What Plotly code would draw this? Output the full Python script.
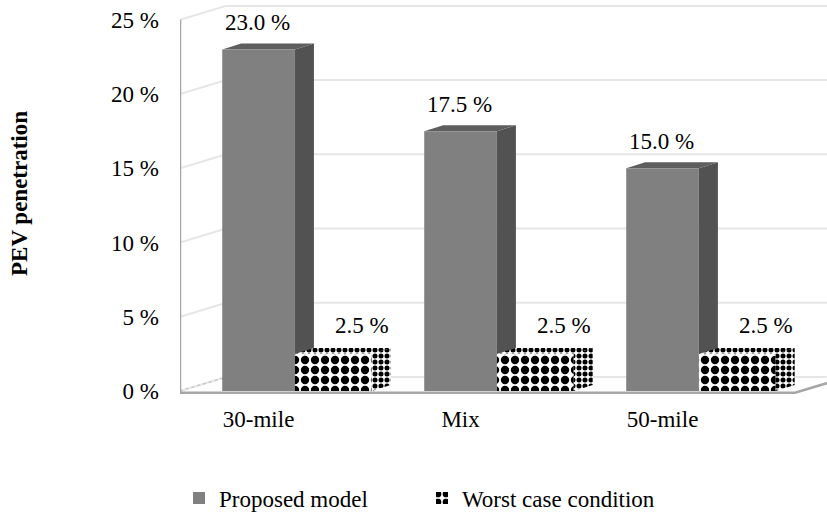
import plotly.graph_objects as go

categories = ["30-mile", "Mix", "50-mile"]
proposed = [23.0, 17.5, 15.0]
worst = [2.5, 2.5, 2.5]
proposed_labels = ["23.0 %", "17.5 %", "15.0 %"]
worst_labels = ["2.5 %", "2.5 %", "2.5 %"]
y_ticks = [0, 5, 10, 15, 20, 25]
y_tick_text = ["0 %", "5 %", "10 %", "15 %", "20 %", "25 %"]

FONT = "Liberation Serif, Times New Roman, serif"
FS = 23
pos = list(range(len(categories)))

# geometry (data units)
W_P, W_W, OFF_W = 0.36, 0.38, 0.37
DX, DY = 0.094, 0.40      # bar depth
GX, GY = 0.228, 0.94      # wall depth
X0, X1 = -0.389, 2.814
Y0, Y1 = -0.27, 26.0
FR = 2.656                # floor front-right corner

FRONT = "#808080"
SIDE = "#525252"
TOP = "#5e5e5e"
pat_front = dict(shape=".", fgcolor="#000000", bgcolor="#ffffff", fgopacity=1,
                 size=10, solidity=0.55)
pat_side = dict(shape=".", fgcolor="#000000", bgcolor="#ffffff", fgopacity=1,
                size=6, solidity=0.55)

fig = go.Figure()
fig.add_trace(go.Bar(x=pos, y=proposed, width=W_P, name="Proposed model",
                     legendwidth=198,
                     marker=dict(color=FRONT, line=dict(width=0))))
fig.add_trace(go.Bar(x=[p + OFF_W for p in pos], y=worst, width=W_W,
                     name="Worst case condition", legendwidth=215,
                     marker=dict(color="white", pattern=pat_front, line=dict(width=0))))

shapes = []
# back wall gridlines with slanted left-wall segments
for t in y_ticks:
    shapes.append(dict(type="path", xref="x", yref="y", layer="below",
                       path=f"M{X0},{t} L{X0+GX},{t+GY} L{X1},{t+GY}",
                       line=dict(color="#e6e6e6", width=2)))
# left wall floor edge (dotted)
shapes.append(dict(type="line", xref="x", yref="y", layer="below",
                   x0=X0, y0=0, x1=X0 + GX, y1=GY,
                   line=dict(color="#c8c8c8", width=1.5, dash="dot")))
# floor front edge
shapes.append(dict(type="path", xref="x", yref="y", layer="above",
                   path=f"M{X0},-0.12 L{FR},-0.12 L{FR+GX},{GY-0.12}",
                   line=dict(color="#a6a6a6", width=2.5)))
# front y axis line
shapes.append(dict(type="line", xref="x", yref="y", layer="above",
                   x0=X0, y0=-0.12, x1=X0, y1=25,
                   line=dict(color="#a6a6a6", width=2.5)))

# proposed bars: side and top faces
for p, v in zip(pos, proposed):
    l, r = p - W_P / 2, p + W_P / 2
    shapes.append(dict(type="path", xref="x", yref="y", layer="below",
                       path=f"M{r},0 L{r},{v} L{r+DX},{v+DY} L{r+DX},{DY} Z",
                       fillcolor=SIDE, line=dict(width=0)))
    shapes.append(dict(type="path", xref="x", yref="y", layer="below",
                       path=f"M{l},{v} L{r},{v} L{r+DX},{v+DY} L{l+DX},{v+DY} Z",
                       fillcolor=TOP, line=dict(width=0)))

# worst case bars: side and top faces (patterned)
for p, w in zip(pos, worst):
    c = p + OFF_W
    l, r = c - W_W / 2, c + W_W / 2
    fig.add_trace(go.Scatter(x=[r, r, r + DX, r + DX, r], y=[0, w, w + DY, DY, 0],
                             mode="lines", line=dict(width=0), fill="toself",
                             fillcolor="white", fillpattern=pat_side,
                             showlegend=False, hoverinfo="skip"))
    fig.add_trace(go.Scatter(x=[l, r, r + DX, l + DX, l], y=[w, w, w + DY, w + DY, w],
                             mode="lines", line=dict(width=0), fill="toself",
                             fillcolor="white", fillpattern=pat_side,
                             showlegend=False, hoverinfo="skip"))

annotations = []
for p, v, s in zip(pos, proposed, proposed_labels):
    annotations.append(dict(x=p, y=v, xref="x", yref="y", text=s, showarrow=False,
                            xshift=-1, yshift=27, yanchor="middle",
                            font=dict(family=FONT, size=FS, color="black")))
for p, w, s in zip(pos, worst, worst_labels):
    annotations.append(dict(x=p + OFF_W, y=w, xref="x", yref="y", text=s, showarrow=False,
                            xshift=29, yshift=28, yanchor="middle",
                            font=dict(family=FONT, size=FS, color="black")))
annotations.append(dict(x=-(180 - 19) / 647, y=1 - (194 - 5) / 390, xref="paper", yref="paper",
                        text="<b>PEV penetration</b>", textangle=-90, showarrow=False,
                        xanchor="center", yanchor="middle",
                        font=dict(family=FONT, size=FS, color="black")))

fig.update_layout(
    width=827, height=523,
    margin=dict(l=180, r=0, t=5, b=128),
    paper_bgcolor="white", plot_bgcolor="white",
    barmode="overlay",
    font=dict(family=FONT, size=FS, color="black"),
    shapes=shapes, annotations=annotations,
    showlegend=True,
    legend=dict(orientation="h", xref="container", yref="container",
                x=179 / 827, xanchor="left", y=1 - 498 / 523, yanchor="middle",
                font=dict(family=FONT, size=FS, color="black"),
                bgcolor="rgba(0,0,0,0)"),
    xaxis=dict(range=[X0, X1], tickvals=pos, ticktext=categories, showgrid=False,
               zeroline=False, showline=False, ticks="", ticklabelstandoff=8,
               fixedrange=True),
    yaxis=dict(range=[Y0, Y1], tickvals=y_ticks, ticktext=y_tick_text, showgrid=False,
               zeroline=False, showline=False, ticks="", ticklabelstandoff=20,
               fixedrange=True),
)

fig.write_html("out.html")
